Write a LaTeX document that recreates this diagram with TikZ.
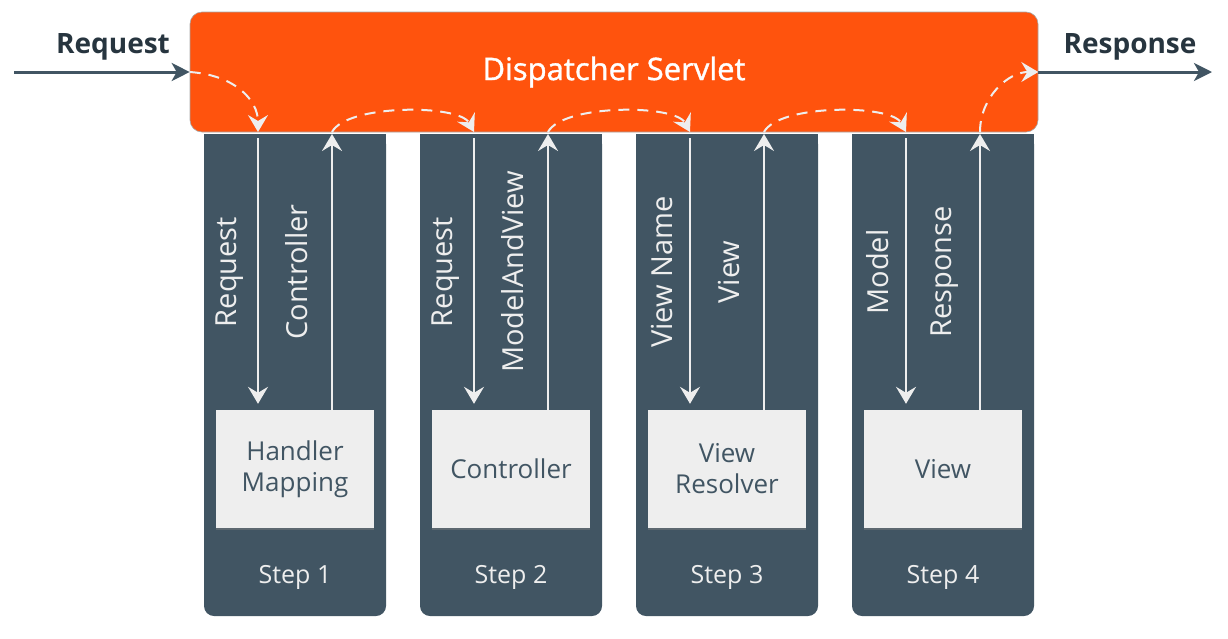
\documentclass[tikz,border=0pt]{standalone}
\usepackage{fontspec}
\setmainfont{Open Sans}
\usetikzlibrary{arrows.meta, shadows, calc}
\definecolor{servletorange}{HTML}{FF530D}
\definecolor{slate}{HTML}{415563}
\definecolor{inkdark}{HTML}{27353F}
\definecolor{paper}{HTML}{EEEEEE}
\tikzset{
  column/.style={fill=slate, rounded corners=10pt, minimum width=182pt, minimum height=482pt, inner sep=0pt},
  comp/.style={fill=paper, minimum width=158pt, minimum height=118pt, inner sep=0pt, align=center, text=slate,
    font=\fontsize{26}{31}\selectfont, drop shadow={shadow xshift=0pt, shadow yshift=-2pt, opacity=.45}},
  steplabel/.style={text=paper, font=\fontsize{25}{30}\selectfont},
  vlabel/.style={text=paper, rotate=90, font=\fontsize{29}{34}\selectfont},
  outerlabel/.style={text=inkdark, font=\bfseries\fontsize{28}{33}\selectfont},
  flow/.style={draw=paper, line width=2pt, -{Stealth[length=17pt, width=20pt, inset=6pt]}},
  hop/.style={flow, dash pattern=on 11pt off 8pt},
  ext/.style={draw=slate, line width=3pt, -{Stealth[length=18pt, width=18pt, inset=5pt]}}
}
\begin{document}
\begin{tikzpicture}[x=1pt, y=-1pt]
\useasboundingbox (0,0) rectangle (1228,638);

% Dispatcher Servlet bar
\node[fill=servletorange, draw=black!35, line width=0.6pt, rounded corners=12pt, minimum width=848pt, minimum height=120pt, inner sep=0pt,
  text=white, font=\addfontfeatures{FakeBold=1.2}\fontsize{31}{37}\selectfont] (servlet) at (614,72) {Dispatcher Servlet};

% Steps: column, component box, step label, down/up arrows with labels
\foreach \i/\comptext/\downtext/\uptext in {1/{Handler\\Mapping}/Request/Controller, 2/Controller/Request/ModelAndView, 3/{View\\Resolver}/View Name/View, 4/View/Model/Response}
{
    \pgfmathsetmacro{\colx}{204+216*(\i-1)}
    \node[column] (col\i) at (\colx+91,375) {};
    \fill[slate] (col\i.north west) rectangle (col\i.east);
    \node[comp] (box\i) at (\colx+91,469) {\comptext};
    \node[steplabel] (st\i) at (\colx+91,577) {Step \i};
    \coordinate (dn\i) at (\colx+54,132);
    \coordinate (up\i) at (\colx+128,132);
    \draw[flow, shorten <=6pt, shorten >=6pt] (dn\i) -- (dn\i |- box\i.north);
    \draw[flow, shorten >=2pt] (up\i |- box\i.north) -- (up\i);
    \node[vlabel] (lbd\i) at (\colx+26,272) {\downtext};
    \node[vlabel] (lbu\i) at (\colx+93,272) {\uptext};
}

% Request in, Response out
\coordinate (reqsrc) at (14,72);
\coordinate (respdst) at (1212,72);
\draw[ext] (reqsrc) -- (servlet.west);
\draw[ext] (servlet.east) -- (respdst);
\node[outerlabel] (reqlabel) at (113,47) {Request};
\node[outerlabel] (resplabel) at (1130,47) {Response};

% Dashed hand-overs through the servlet
\draw[hop] (servlet.west) .. controls +(45,3) and +(0,-32) .. (dn1);
\foreach \i/\j in {1/2, 2/3, 3/4}
{
    \draw[hop] (up\i) .. controls +(15,-28) and +(-15,-28) .. (dn\j);
}
\draw[hop] (up4) .. controls +(0,-35) and +(-30,0) .. (servlet.east);

\end{tikzpicture}
\end{document}
